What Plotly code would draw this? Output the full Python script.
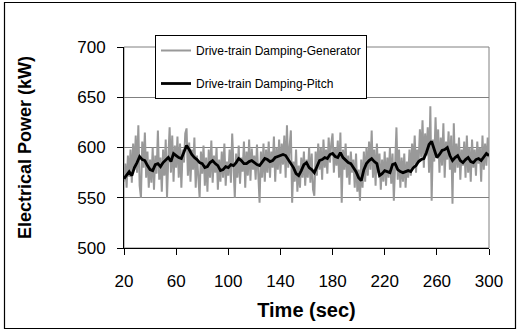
import plotly.graph_objects as go

# Time stamps (sec)
time_gen = list(range(20, 301))          # 1 s samples
time_pitch = list(range(20, 301, 2))     # 2 s samples

# Drive-train Damping-Generator (kW)
gen_power = [
    566, 584, 560, 592, 571, 598, 565, 604, 578, 612,
    575, 622, 562, 550, 606, 580, 615, 570, 596, 560,
    588, 565, 600, 558, 592, 574, 617, 568, 590, 556,
    598, 572, 608, 550, 590, 620, 575, 612, 566, 602,
    580, 611, 570, 604, 560, 598, 585, 614, 619, 572,
    605, 566, 598, 578, 610, 560, 592, 570, 550, 596,
    574, 602, 562, 590, 556, 598, 570, 607, 565, 592,
    575, 600, 558, 588, 566, 596, 570, 604, 562, 586,
    572, 598, 565, 614, 575, 550, 594, 570, 602, 564,
    590, 576, 606, 560, 596, 572, 608, 567, 599, 578,
    592, 568, 603, 575, 545, 596, 570, 604, 566, 598,
    575, 606, 570, 596, 580, 611, 566, 600, 578, 608,
    574, 604, 583, 612, 570, 622, 580, 600, 617, 545,
    586, 566, 598, 556, 582, 560, 590, 570, 596, 562,
    588, 570, 600, 565, 594, 558, 552, 596, 572, 604,
    578, 600, 568, 608, 580, 598, 574, 610, 585, 604,
    614, 575, 600, 582, 607, 570, 615, 545, 598, 578,
    604, 570, 592, 563, 596, 575, 588, 560, 594, 556,
    578, 547, 588, 560, 596, 566, 600, 572, 606, 578,
    617, 570, 598, 562, 604, 575, 594, 558, 588, 566,
    596, 562, 590, 570, 600, 564, 594, 547, 586, 620,
    568, 598, 560, 590, 566, 594, 560, 586, 570, 598,
    572, 604, 580, 612, 575, 598, 585, 618, 590, 627,
    580, 614, 592, 620, 575, 641, 547, 608, 586, 630,
    590, 618, 575, 610, 582, 624, 570, 606, 588, 616,
    578, 612, 544, 624, 575, 604, 580, 610, 568, 598,
    582, 606, 570, 612, 575, 600, 566, 608, 580, 598,
    572, 606, 584, 600, 566, 612, 578, 604, 582, 610,
    590,
]

# Drive-train Damping-Pitch (kW)
pitch_power = [
    569, 573, 576, 572, 580, 585, 591, 588, 587, 582,
    578, 577, 583, 584, 581, 585, 588, 590, 586, 594,
    592, 590, 589, 595, 602, 598, 593, 590, 588, 585,
    584, 580, 581, 585, 587, 584, 582, 577, 578, 581,
    580, 583, 582, 585, 589, 587, 584, 584, 586, 587,
    585, 583, 582, 586, 589, 588, 586, 587, 590, 591,
    592, 593, 592, 588, 585, 580, 574, 572, 577, 583,
    585, 580, 578, 575, 581, 587, 588, 590, 589, 593,
    594, 591, 590, 595, 590, 587, 585, 584, 580, 576,
    570, 567, 578, 584, 587, 589, 586, 584, 572, 574,
    577, 576, 575, 583, 584, 578, 576, 575, 576, 577,
    576, 580, 582, 586, 588, 589, 595, 603, 606, 597,
    590, 593, 597, 598, 600, 592, 587, 590, 592, 587,
    585, 588, 590, 586, 585, 588, 589, 587, 590, 594,
    592,
]

x_ticks = [20, 60, 100, 140, 180, 220, 260, 300]
y_ticks = [500, 550, 600, 650, 700]

W, H = 519, 332
L, R, T, B = 124, 30, 47, 84
pw, ph = W - L - R, H - T - B


def px_to_paper_x(px):
    return (px - L) / pw


def px_to_paper_y(py):
    return (H - B - py) / ph


fig = go.Figure()
fig.add_trace(go.Scatter(
    x=time_gen, y=gen_power, mode="lines",
    name="Drive-train Damping-Generator",
    line=dict(color="#999999", width=2),
    legendgroup="g1",
))
fig.add_trace(go.Scatter(
    x=time_pitch, y=pitch_power, mode="lines",
    name="Drive-train Damping-Pitch",
    line=dict(color="#000000", width=2.8),
    legendgroup="g2",
))

font_family = "Liberation Sans, Arial, sans-serif"

fig.update_layout(
    width=W, height=H,
    margin=dict(l=L, r=R, t=T, b=B),
    paper_bgcolor="white", plot_bgcolor="white",
    font=dict(family=font_family, color="black"),
    showlegend=True,
    legend=dict(
        x=px_to_paper_x(155), y=px_to_paper_y(35),
        xanchor="left", yanchor="top",
        bgcolor="white", bordercolor="black", borderwidth=1,
        font=dict(size=12, family=font_family, color="black"),
        tracegroupgap=14,
        traceorder="grouped",
    ),
    xaxis=dict(
        range=[20, 300], tickvals=x_ticks, ticktext=[str(v) for v in x_ticks],
        showgrid=False, zeroline=False,
        showline=True, linecolor="black", linewidth=1,
        ticks="outside", ticklen=6, tickcolor="black", tickwidth=1,
        tickfont=dict(size=17),
        ticklabelstandoff=12,
        title=dict(text="<b>Time (sec)</b>", font=dict(size=20), standoff=12),
    ),
    yaxis=dict(
        range=[500, 700], tickvals=y_ticks, ticktext=[str(v) for v in y_ticks],
        showgrid=True, gridcolor="#808080", gridwidth=1,
        zeroline=False,
        showline=True, linecolor="black", linewidth=1,
        ticks="outside", ticklen=6, tickcolor="black", tickwidth=1,
        tickfont=dict(size=17),
        ticklabelstandoff=8,
        title=dict(text="<b>Electrical Power (kW)</b>", font=dict(size=18), standoff=40),
    ),
    shapes=[
        dict(type="rect", xref="paper", yref="paper", x0=0, x1=1, y0=0, y1=1,
             line=dict(color="#808080", width=1), layer="below"),
        dict(type="rect", xref="paper", yref="paper",
             x0=px_to_paper_x(4.5), x1=px_to_paper_x(515.5),
             y0=px_to_paper_y(328.5), y1=px_to_paper_y(2.5),
             line=dict(color="black", width=1.2), layer="above"),
    ],
)

fig.write_html(
    "out.html",
    config={"displayModeBar": False},
    post_script="document.body.style.margin='0px';document.body.style.overflow='hidden';",
)
